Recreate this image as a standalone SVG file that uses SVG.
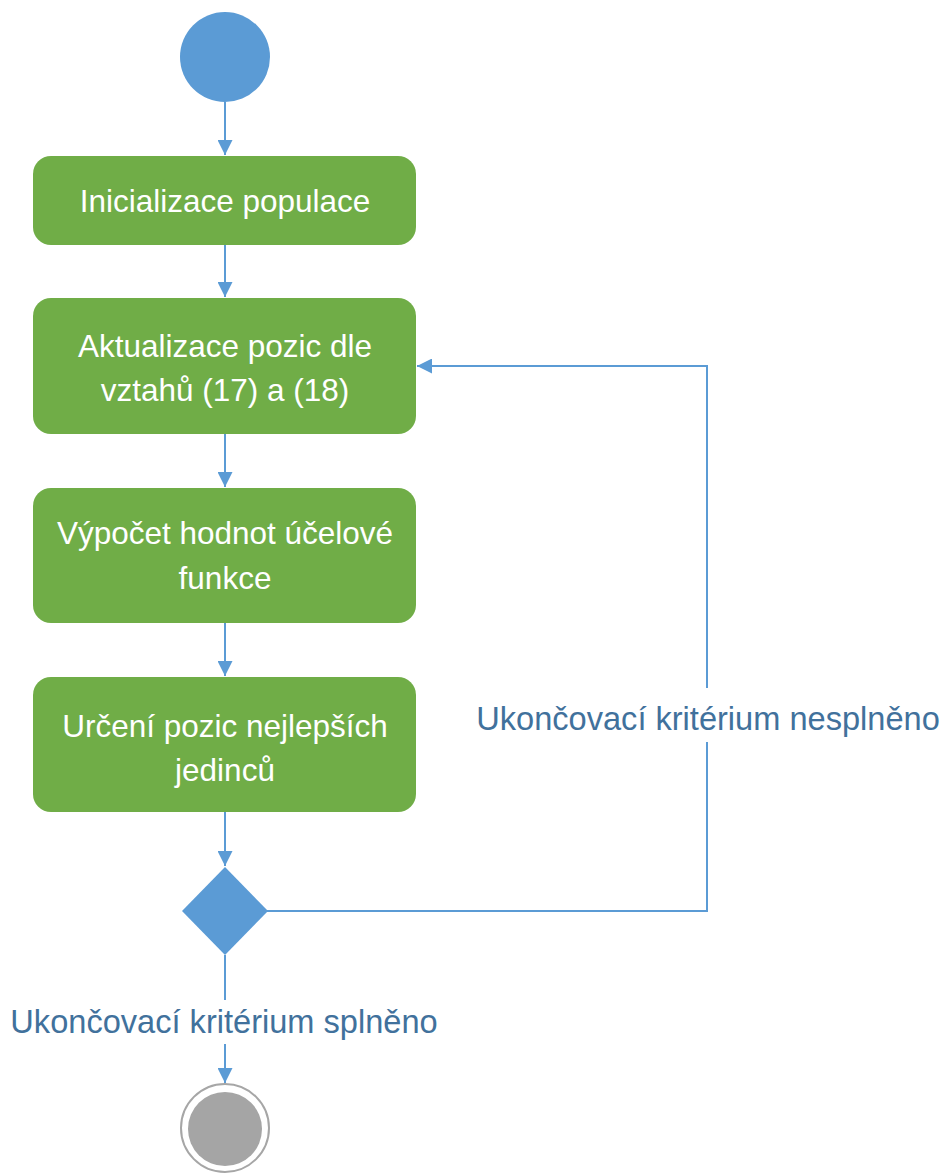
<svg xmlns="http://www.w3.org/2000/svg" width="946" height="1173" viewBox="0 0 946 1173">
  <style>
    .box { fill: #70AD47; }
    .boxtext { font-family: "Liberation Sans", Arial, sans-serif; font-size: 31.5px; fill: #ffffff; text-anchor: middle; }
    .label { font-family: "Liberation Sans", Arial, sans-serif; font-size: 32.6px; fill: #41719C; text-anchor: middle; }
    .conn { fill: none; stroke: #5B9BD5; stroke-width: 2; }
    .node { fill: #5B9BD5; }
  </style>
  <defs>
    <marker id="arrow" viewBox="0 0 10 10" refX="10" refY="5" markerWidth="15" markerHeight="15" markerUnits="userSpaceOnUse" orient="auto">
      <path d="M0,0 L10,5 L0,10 Z" fill="#5B9BD5"/>
    </marker>
  </defs>

  <rect width="946" height="1173" fill="#ffffff"/>

  <!-- connectors -->
  <g id="connectors">
    <line class="conn" x1="225" y1="102" x2="225" y2="155" marker-end="url(#arrow)"/>
    <line class="conn" x1="225" y1="245" x2="225" y2="297" marker-end="url(#arrow)"/>
    <line class="conn" x1="225" y1="434" x2="225" y2="487" marker-end="url(#arrow)"/>
    <line class="conn" x1="225" y1="623" x2="225" y2="676" marker-end="url(#arrow)"/>
    <line class="conn" x1="225" y1="812" x2="225" y2="866" marker-end="url(#arrow)"/>
    <!-- loop back when the stop criterion is not met -->
    <polyline class="conn" points="267,911 707,911 707,742"/>
    <polyline class="conn" points="707,688 707,366 417,366" marker-end="url(#arrow)"/>
    <!-- exit when the stop criterion is met -->
    <line class="conn" x1="225" y1="955" x2="225" y2="1000"/>
    <line class="conn" x1="225" y1="1044" x2="225" y2="1083" marker-end="url(#arrow)"/>
    <text class="label" x="708" y="730">Ukončovací kritérium nesplněno</text>
    <text class="label" x="224" y="1033">Ukončovací kritérium splněno</text>
  </g>

  <g id="start">
    <circle class="node" cx="225" cy="57" r="45"/>
  </g>

  <g id="init">
    <rect class="box" x="33" y="156" width="383" height="89" rx="18"/>
    <text class="boxtext" x="225" y="212">Inicializace populace</text>
  </g>

  <g id="update">
    <rect class="box" x="33" y="298" width="383" height="136" rx="18"/>
    <text class="boxtext" x="225" y="357">Aktualizace pozic dle</text>
    <text class="boxtext" x="225" y="401">vztahů (17) a (18)</text>
  </g>

  <g id="fitness">
    <rect class="box" x="33" y="488" width="383" height="135" rx="18"/>
    <text class="boxtext" x="225" y="544">Výpočet hodnot účelové</text>
    <text class="boxtext" x="225" y="589">funkce</text>
  </g>

  <g id="best">
    <rect class="box" x="33" y="677" width="383" height="135" rx="18"/>
    <text class="boxtext" x="225" y="737">Určení pozic nejlepších</text>
    <text class="boxtext" x="225" y="781">jedinců</text>
  </g>

  <g id="decision">
    <polygon class="node" points="225,867 268,911 225,955 182,911"/>
  </g>

  <g id="end">
    <circle cx="225" cy="1128" r="44" fill="#ffffff" stroke="#A6A6A6" stroke-width="2"/>
    <circle cx="225" cy="1129" r="37" fill="#A5A5A5"/>
  </g>
</svg>
